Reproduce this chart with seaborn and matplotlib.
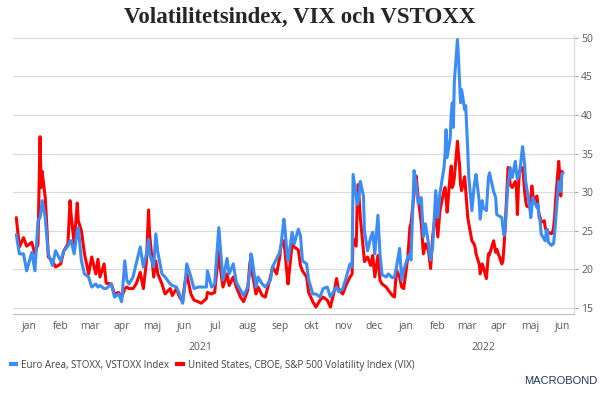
import pandas as pd
import numpy as np
import matplotlib
matplotlib.use("Agg")
import matplotlib.pyplot as plt
import matplotlib.dates as mdates
from matplotlib.lines import Line2D
from matplotlib.ticker import FuncFormatter
import seaborn as sns

# ---------------------------------------------------------------------------
# Data (approximate closes)
dates = [
    "2021-01-04", "2021-01-07", "2021-01-11", "2021-01-14", "2021-01-19", "2021-01-22",
    "2021-01-25", "2021-01-27", "2021-01-28", "2021-01-29", "2021-02-01", "2021-02-02",
    "2021-02-04", "2021-02-08", "2021-02-11", "2021-02-16", "2021-02-19", "2021-02-23",
    "2021-02-25", "2021-02-26", "2021-03-01", "2021-03-04", "2021-03-05", "2021-03-08",
    "2021-03-11", "2021-03-15", "2021-03-18", "2021-03-22", "2021-03-24", "2021-03-26",
    "2021-03-30", "2021-04-01", "2021-04-06", "2021-04-09", "2021-04-13", "2021-04-16",
    "2021-04-19", "2021-04-21", "2021-04-23", "2021-04-27", "2021-04-30", "2021-05-04",
    "2021-05-07", "2021-05-10", "2021-05-12", "2021-05-13", "2021-05-17", "2021-05-19",
    "2021-05-21", "2021-05-25", "2021-05-28", "2021-06-02", "2021-06-04", "2021-06-08",
    "2021-06-11", "2021-06-14", "2021-06-16", "2021-06-18", "2021-06-22", "2021-06-25",
    "2021-06-29", "2021-07-02", "2021-07-07", "2021-07-08", "2021-07-12", "2021-07-15",
    "2021-07-19", "2021-07-20", "2021-07-23", "2021-07-27", "2021-07-29", "2021-08-02",
    "2021-08-05", "2021-08-09", "2021-08-12", "2021-08-16", "2021-08-18", "2021-08-19",
    "2021-08-20", "2021-08-24", "2021-08-26", "2021-08-30", "2021-09-02", "2021-09-07",
    "2021-09-09", "2021-09-13", "2021-09-16", "2021-09-17", "2021-09-20", "2021-09-21",
    "2021-09-23", "2021-09-24", "2021-09-28", "2021-09-30", "2021-10-04", "2021-10-06",
    "2021-10-08", "2021-10-12", "2021-10-14", "2021-10-18", "2021-10-21", "2021-10-25",
    "2021-10-28", "2021-11-01", "2021-11-04", "2021-11-08", "2021-11-10", "2021-11-12",
    "2021-11-16", "2021-11-19", "2021-11-23", "2021-11-25", "2021-11-26", "2021-11-29",
    "2021-11-30", "2021-12-01", "2021-12-03", "2021-12-06", "2021-12-07", "2021-12-10",
    "2021-12-13", "2021-12-15", "2021-12-17", "2021-12-20", "2021-12-22", "2021-12-24",
    "2021-12-28", "2021-12-30",
    "2022-01-03", "2022-01-05", "2022-01-07", "2022-01-10", "2022-01-12", "2022-01-14",
    "2022-01-18", "2022-01-20", "2022-01-21", "2022-01-24", "2022-01-25", "2022-01-26",
    "2022-01-28", "2022-01-31", "2022-02-02", "2022-02-04", "2022-02-07", "2022-02-09",
    "2022-02-11", "2022-02-14", "2022-02-16", "2022-02-18", "2022-02-22", "2022-02-23",
    "2022-02-24", "2022-02-25", "2022-02-28", "2022-03-01", "2022-03-02", "2022-03-03",
    "2022-03-04", "2022-03-07", "2022-03-08", "2022-03-09", "2022-03-10", "2022-03-11",
    "2022-03-14", "2022-03-15", "2022-03-16", "2022-03-17", "2022-03-18", "2022-03-21",
    "2022-03-23", "2022-03-24", "2022-03-25", "2022-03-28", "2022-03-29", "2022-03-31",
    "2022-04-01", "2022-04-04", "2022-04-06", "2022-04-07", "2022-04-11", "2022-04-13",
    "2022-04-14", "2022-04-19", "2022-04-20", "2022-04-21", "2022-04-22", "2022-04-25",
    "2022-04-26", "2022-04-27", "2022-04-29", "2022-05-02", "2022-05-03", "2022-05-04",
    "2022-05-05", "2022-05-06", "2022-05-09", "2022-05-10", "2022-05-11", "2022-05-12",
    "2022-05-13", "2022-05-16", "2022-05-17", "2022-05-18", "2022-05-19", "2022-05-20",
    "2022-05-23", "2022-05-24", "2022-05-25", "2022-05-26", "2022-05-27", "2022-05-30",
    "2022-05-31", "2022-06-01", "2022-06-02", "2022-06-03", "2022-06-06", "2022-06-07",
    "2022-06-08", "2022-06-09", "2022-06-10", "2022-06-13", "2022-06-14", "2022-06-15",
    "2022-06-16", "2022-06-17",
]

vstoxx = [
    24.5, 22.0, 22.0, 19.8, 22.2, 19.8,
    26.3, 26.7, 27.6, 28.9, 26.7, 25.0,
    22.0, 20.5, 22.4, 21.1, 22.4, 23.0,
    23.7, 23.7, 22.0, 25.0, 25.4, 21.1,
    19.4, 19.0, 17.7, 18.1, 17.7, 17.9,
    17.5, 17.5, 18.1, 16.4, 16.8, 15.8,
    21.1, 18.6, 18.1, 19.0, 20.7, 22.9,
    20.3, 22.0, 23.9, 22.0, 20.3, 24.6,
    22.2, 19.4, 19.0, 18.1, 17.9, 17.7,
    16.8, 15.6, 17.7, 20.7, 19.0, 17.5,
    17.7, 17.7, 17.7, 19.8, 17.7, 18.1,
    25.4, 23.7, 18.6, 21.4, 19.4, 20.7,
    18.3, 17.3, 16.6, 17.7, 19.8, 22.0,
    21.6, 17.7, 19.0, 18.1, 17.7, 18.6,
    20.3, 21.4, 22.2, 22.9, 26.5, 25.4,
    22.0, 21.1, 24.8, 23.3, 25.2, 24.4,
    21.1, 20.7, 18.6, 16.8, 16.8, 16.4,
    17.5, 17.7, 16.4, 17.3, 17.7, 17.1,
    17.5, 18.8, 20.7, 20.3, 32.3, 29.5,
    28.4, 28.8, 31.4, 29.5, 25.0, 22.4,
    24.1, 24.8, 22.0, 27.0, 22.0, 19.3,
    19.0, 19.4,
    18.9, 19.0, 20.3, 22.7, 18.6, 19.9,
    21.6, 22.0, 21.2, 32.8, 31.9, 31.0,
    28.5, 29.3, 24.2, 25.9, 23.3, 21.2,
    22.9, 30.2, 26.7, 29.8, 33.2, 34.9,
    38.1, 34.5, 37.0, 40.1, 41.6, 38.4,
    44.4, 49.8, 47.4, 44.4, 41.6, 43.3,
    40.7, 41.2, 38.4, 35.3, 31.9, 27.6,
    30.6, 31.5, 32.3, 28.9, 26.5, 28.9,
    28.0, 27.6, 31.9, 32.5, 30.1, 29.3,
    27.1, 26.7, 25.4, 24.4, 25.0, 31.2,
    31.9, 33.2, 31.9, 34.0, 32.7, 31.7,
    32.1, 32.3, 35.9, 34.9, 33.6, 31.4,
    30.6, 28.0, 26.7, 28.0, 29.3, 28.9,
    28.0, 28.4, 26.7, 26.3, 24.6, 23.9,
    23.7, 25.0, 25.2, 23.5, 23.1, 23.3,
    23.3, 24.6, 26.3, 31.4, 30.6, 30.1,
    32.3, 32.5,
]

vix = [
    26.7, 22.9, 24.1, 23.0, 23.5, 22.0,
    23.3, 37.2, 30.6, 32.7, 29.3, 27.0,
    21.6, 21.1, 20.3, 20.7, 22.4, 23.3,
    28.9, 27.1, 23.3, 28.6, 26.3, 25.0,
    22.0, 19.4, 21.6, 19.4, 21.3, 19.0,
    20.7, 18.2, 18.1, 16.8, 17.0, 16.4,
    17.5, 17.7, 17.5, 17.5, 18.1, 19.6,
    17.5, 21.1, 27.7, 24.6, 19.0, 21.1,
    19.4, 18.1, 16.8, 17.5, 16.6, 17.5,
    16.4, 15.8, 18.1, 19.4, 16.8, 16.0,
    15.8, 15.6, 16.2, 17.0, 16.8, 17.0,
    22.4, 20.7, 17.7, 19.4, 17.9, 19.0,
    17.7, 16.4, 15.8, 17.3, 20.7, 21.4,
    19.8, 16.8, 17.7, 16.6, 16.4, 19.0,
    20.3, 19.4, 21.6, 22.9, 23.7, 22.4,
    19.4, 18.1, 23.3, 22.9, 22.5, 20.5,
    19.8, 19.0, 17.0, 15.8, 15.1, 16.0,
    16.4, 16.0, 15.1, 17.3, 18.8, 17.3,
    16.8, 17.9, 19.0, 19.4, 24.0, 23.0,
    29.0, 31.0, 26.7, 22.4, 21.0, 21.6,
    20.5, 21.8, 19.0, 21.8, 18.6, 18.1,
    17.7, 17.3,
    16.6, 16.4, 19.9, 19.0, 17.7, 17.5,
    21.6, 25.5, 25.9, 29.8, 31.5, 32.1,
    29.3, 25.9, 22.0, 23.3, 22.4, 20.1,
    24.2, 27.6, 24.2, 27.6, 30.2, 30.6,
    29.3, 27.4, 32.3, 33.4, 30.6, 31.0,
    31.9, 36.6, 34.9, 33.6, 31.0, 30.2,
    32.0, 30.2, 28.5, 26.7, 25.9, 23.7,
    23.3, 22.9, 22.0, 20.7, 19.4, 20.7,
    20.3, 18.8, 22.0, 21.9, 23.7, 22.2,
    22.6, 20.7, 21.1, 22.9, 25.0, 33.2,
    32.7, 31.0, 30.6, 31.4, 30.6, 27.1,
    30.6, 32.7, 33.2, 31.9, 30.1, 28.9,
    28.2, 28.0, 29.3, 30.8, 29.7, 28.9,
    29.5, 28.0, 27.1, 26.7, 26.1, 26.3,
    25.4, 25.0, 25.0, 24.8, 24.6, 24.8,
    25.4, 26.7, 28.9, 34.0, 32.3, 29.5,
    32.7, 32.5,
]

month_names = ["jan", "feb", "mar", "apr", "maj", "jun",
               "jul", "aug", "sep", "okt", "nov", "dec"]
year_labels = ["2021", "2022"]
year_label_pos = ["2021-07-01", "2022-04-01"]

label_vstoxx = "Euro Area, STOXX, VSTOXX Index"
label_vix = "United States, CBOE, S&P 500 Volatility Index (VIX)"

blue = "#3b8cf5"
red = "#ff0000"
grey_txt = "#595959"

df = pd.DataFrame({"date": pd.to_datetime(dates), "VSTOXX": vstoxx, "VIX": vix})

# ---------------------------------------------------------------------------
sns.set_style("white")
plt.rcParams['font.family'] = ['Open Sans', 'DejaVu Sans']

fig = plt.figure(figsize=(6, 3.96), dpi=100)
ax = fig.add_axes([0.022, 0.207, 0.935, 0.705])

# red first so the blue line sits on top
sns.lineplot(x="date", y="VIX", data=df, color=red, lw=2.2, ax=ax)
sns.lineplot(x="date", y="VSTOXX", data=df, color=blue, lw=2.2, ax=ax)

ax.set_xlim(pd.Timestamp("2021-01-01"), pd.Timestamp("2022-06-28"))
ax.set_ylim(14.2, 50.4)
ax.set_xlabel("")
ax.set_ylabel("")

# y axis on the right
ax.yaxis.tick_right()
ax.set_yticks(np.arange(15, 51, 5))
ax.tick_params(axis="y", which="major", length=3, width=0.8, color="#a6a6a6",
               labelsize=7.5, labelcolor=grey_txt, pad=2)
ax.grid(axis="y", color="#d9d9d9", lw=0.8)
ax.grid(axis="x", visible=False)

# x axis: ticks at month starts, labels mid month
ax.xaxis.set_major_locator(mdates.MonthLocator())
ax.xaxis.set_major_formatter(FuncFormatter(lambda v, p: ""))
ax.xaxis.set_minor_locator(mdates.MonthLocator(bymonthday=16))
ax.xaxis.set_minor_formatter(FuncFormatter(lambda v, p: month_names[mdates.num2date(v).month - 1]))
ax.tick_params(axis="x", which="major", length=3, width=0.8, color="#404040", direction="out")
ax.tick_params(axis="x", which="minor", length=0, labelsize=7.5, labelcolor=grey_txt, pad=5)

for lab, pos in zip(year_labels, year_label_pos):
    ax.text(pd.Timestamp(pos), -0.12, lab, transform=ax.get_xaxis_transform(),
            ha="center", va="center", fontsize=7.5, color=grey_txt)

for side in ["left", "top"]:
    ax.spines[side].set_visible(False)
ax.spines["right"].set_color("#d9d9d9")
ax.spines["bottom"].set_color("#bfbfbf")

# Title
fig.text(0.5, 0.957, "Volatilitetsindex, VIX och VSTOXX", ha="center", va="center",
         fontsize=16.5, fontweight="bold", family="Liberation Serif", color="#262626")

# Legend
handles = [Line2D([0], [0], color=blue, lw=3, solid_capstyle="butt"),
           Line2D([0], [0], color=red, lw=3, solid_capstyle="butt")]
fig.legend(handles, [label_vstoxx, label_vix], loc="center left",
           bbox_to_anchor=(0.0, 0.078), ncol=2, frameon=False, fontsize=7,
           handlelength=1.0, handletextpad=0.3, columnspacing=0.6, labelcolor="#404040")

fig.text(0.995, 0.037, "MACROBOND", ha="right", va="center", fontsize=8,
         color="#1f3864", family="Liberation Sans")

fig.savefig("out.png", dpi=100)
